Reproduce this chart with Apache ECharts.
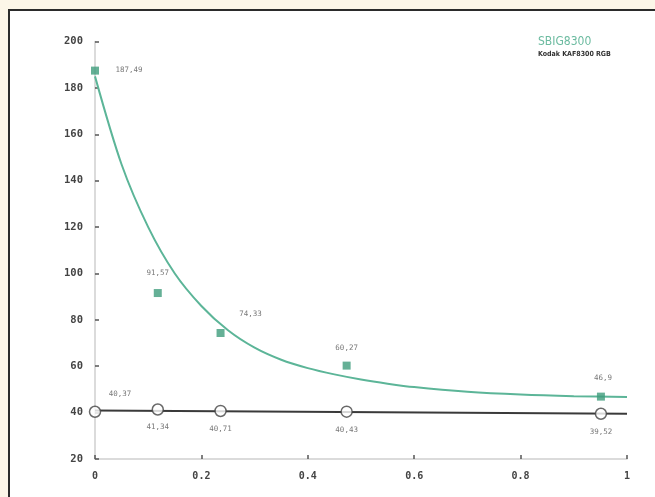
<!DOCTYPE html>
<html>
<head>
<meta charset="utf-8">
<script src="https://cdn.jsdelivr.net/npm/echarts@6/dist/echarts.min.js"></script>
<style>
  html, body { margin: 0; padding: 0; background: #fcf6e8; }
  #chart { width: 655px; height: 497px; }
</style>
</head>
<body>
<div id="chart"></div>
<script>
// Exposure fraction on the x axis, noise values on the y axis
var xPositions = [0, 0.118, 0.236, 0.473, 0.951];
var sbigValues = [187.49, 91.57, 74.33, 60.27, 46.9];
var kodakValues = [40.37, 41.34, 40.71, 40.43, 39.52];

// Fitted decay curve through the SBIG points, read at these x positions
var curveX = [0, 0.05, 0.1, 0.15, 0.2, 0.25, 0.3, 0.35, 0.4, 0.45, 0.5, 0.55, 0.6, 0.7, 0.8, 0.9, 1.0];
var curveY = [185, 147, 120, 100, 86, 75.5, 68, 62.8, 59.2, 56.5, 54.3, 52.5, 51, 49, 47.8, 47.1, 46.7];

// Straight trend line for the Kodak points
var lineX = [0, 1];
var lineY = [40.9, 39.5];

var xTicks = ['0', '0.2', '0.4', '0.6', '0.8', '1'];

var seriesName = 'SBIG8300';
var seriesSub = 'Kodak KAF8300 RGB';

function fmt(v) { return String(v).replace('.', ','); }

var labelFont = { fontFamily: 'DejaVu Sans Mono', fontSize: 7.5, color: '#555' };

// label placement per point (pixel offsets from the marker)
var sbigLabelOffsets = [[34, -1], [0, -20], [30, -19], [0, -18], [2, -19]];
var kodakLabelOffsets = [[25, -18], [0, 18], [0, 18], [0, 18], [0, 18]];

var sbigData = xPositions.map(function (x, i) {
  return {
    value: [x, sbigValues[i]],
    label: Object.assign({ show: true, position: 'inside', offset: sbigLabelOffsets[i], formatter: fmt(sbigValues[i]) }, labelFont)
  };
});
var kodakData = xPositions.map(function (x, i) {
  return {
    value: [x, kodakValues[i]],
    label: Object.assign({ show: true, position: 'inside', offset: kodakLabelOffsets[i], formatter: fmt(kodakValues[i]) }, labelFont)
  };
});

var chart = echarts.init(document.getElementById('chart'));
chart.setOption({
  backgroundColor: '#fcf6e8',
  animation: false,
  graphic: [
    {
      type: 'rect', z: -10,
      shape: { x: 9, y: 10, width: 660, height: 500 },
      style: { fill: '#ffffff', stroke: '#2b2b2b', lineWidth: 2 }
    },
    {
      type: 'text', left: 538, top: 36,
      style: { text: seriesName, fill: '#6cbba0', font: '12px "DejaVu Sans Condensed"' }
    },
    {
      type: 'text', left: 538, top: 51,
      style: { text: seriesSub, fill: '#333', font: 'bold 7px "DejaVu Sans Condensed"' }
    }
  ],
  grid: { left: 95, right: 28, top: 41.6, bottom: 38, containLabel: false },
  xAxis: {
    type: 'value', min: 0, max: 1, interval: 0.2,
    axisLine: { show: true, lineStyle: { color: '#cfcfcf', width: 1.5 } },
    axisTick: { show: true, inside: true, length: 4, lineStyle: { color: '#555', width: 1.5 } },
    splitLine: { show: false },
    axisLabel: {
      margin: 12, fontFamily: 'DejaVu Sans Mono', fontWeight: 'bold', fontSize: 10, color: '#444',
      formatter: function (v) { return xTicks[Math.round(v / 0.2)]; }
    }
  },
  yAxis: {
    type: 'value', min: 20, max: 200, interval: 20,
    axisLine: { show: true, lineStyle: { color: '#cfcfcf', width: 1.5 } },
    axisTick: { show: true, inside: true, length: 4, lineStyle: { color: '#555', width: 1.5 } },
    splitLine: { show: false },
    axisLabel: { margin: 12, fontFamily: 'DejaVu Sans Mono', fontWeight: 'bold', fontSize: 10.5, color: '#444' }
  },
  series: [
    {
      type: 'line', smooth: 0.3, symbol: 'none', z: 2,
      data: curveX.map(function (x, i) { return [x, curveY[i]]; }),
      lineStyle: { color: '#5cb598', width: 2 }
    },
    {
      type: 'line', symbol: 'none', z: 2,
      data: lineX.map(function (x, i) { return [x, lineY[i]]; }),
      lineStyle: { color: '#3a3a3a', width: 2 }
    },
    {
      type: 'scatter', symbol: 'rect', symbolSize: 8, z: 3,
      itemStyle: { color: '#3f9c7c' },
      data: sbigData
    },
    {
      type: 'scatter', symbol: 'circle', symbolSize: 11, z: 4,
      itemStyle: { color: '#ffffff', borderColor: '#444', borderWidth: 1.5 },
      data: kodakData
    }
  ]
});
</script>
</body>
</html>
